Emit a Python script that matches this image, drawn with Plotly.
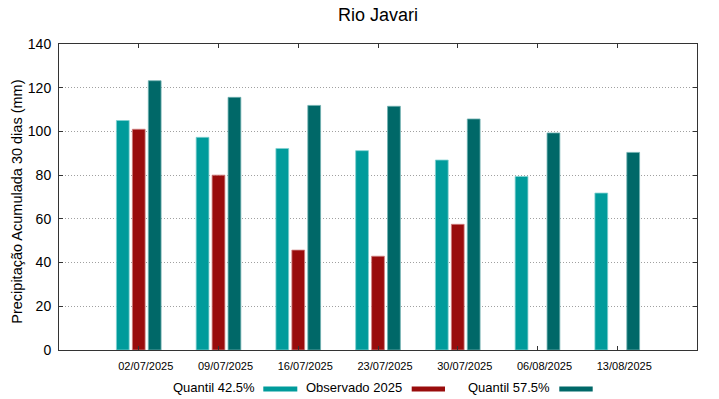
import plotly.graph_objects as go

dates = ["02/07/2025", "09/07/2025", "16/07/2025", "23/07/2025", "30/07/2025", "06/08/2025", "13/08/2025"]
q425 = [105, 97.3, 92.2, 91.2, 86.9, 79.4, 71.8]
obs2025 = [101, 80, 45.7, 42.9, 57.5, None, None]
q575 = [123.2, 115.6, 111.9, 111.5, 105.7, 99.3, 90.4]
series_names = ["Quantil 42.5%", "Observado 2025", "Quantil 57.5%"]
yticks = [0, 20, 40, 60, 80, 100, 120, 140]

colors = ["#009b9b", "#990c0c", "#006868"]
edge = ["#7fd0d0", "#d08080", "#6fb0b0"]
offsets = [-0.28, -0.08, 0.12]
bw = 0.16

x = list(range(len(dates)))
fig = go.Figure()
for vals, name, c, e, off in zip([q425, obs2025, q575], series_names, colors, edge, offsets):
    fig.add_trace(go.Bar(x=x, y=vals, name=name, width=bw, offset=off,
                         marker=dict(color=c, line=dict(color=e, width=0.8)),
                         showlegend=False))

W, H = 719, 399
L, R, T, B = 59, 697, 44, 350
pw, ph = R - L, B - T

def px(xp):
    return (xp - L) / pw

def py(yp):
    return (B - yp) / ph

font = "Liberation Sans, Arial, sans-serif"

fig.update_layout(
    width=W, height=H,
    margin=dict(l=L, r=W - R, t=T, b=H - B, pad=0),
    paper_bgcolor="white", plot_bgcolor="white",
    barmode="overlay",
    font=dict(family=font, color="#000000"),
    title=dict(text="Rio Javari", x=(L + R) / 2 / W, xanchor="center", y=1 - 15 / H, yanchor="middle",
               font=dict(size=18, family=font, color="#000000")),
    xaxis=dict(range=[-1, 7], tickmode="array", tickvals=x, ticktext=dates,
               ticks="inside", ticklen=4, tickcolor="#333333", showgrid=False,
               showline=True, linecolor="#333333", linewidth=1, mirror="ticks",
               tickfont=dict(size=11, family=font), ticklabelshift=7, ticklabelstandoff=6,
               zeroline=False),
    yaxis=dict(range=[0, 140], tickmode="array", tickvals=yticks,
               ticks="inside", ticklen=4, tickcolor="#333333",
               showgrid=True, gridcolor="#a0a0a0", griddash="1px,2px", gridwidth=1,
               showline=True, linecolor="#333333", linewidth=1, mirror="ticks",
               tickfont=dict(size=14, family=font), ticklabelstandoff=4, zeroline=False),
)

ann = [dict(text="Precipitação Acumulada 30 dias (mm)", x=px(17), y=py(201.7), xref="paper", yref="paper",
            textangle=-90, showarrow=False, xanchor="center", yanchor="middle",
            font=dict(size=14.5, family=font, color="#000000"))]
leg_text_right = [256.7, 404, 552.3]
leg_sw = [(263.3, 297.3), (411.7, 445), (559.3, 592.7)]
shapes = []
for name, tr, (s0, s1), c in zip(series_names, leg_text_right, leg_sw, colors):
    ann.append(dict(text=name, x=px(tr), y=py(387.7), xref="paper", yref="paper", showarrow=False,
                    xanchor="right", yanchor="middle", font=dict(size=13, family=font, color="#000000")))
    shapes.append(dict(type="rect", xref="paper", yref="paper", x0=px(s0), x1=px(s1),
                       y0=py(386.5), y1=py(391.5), fillcolor=c, line=dict(width=0)))
fig.update_layout(annotations=ann, shapes=shapes)

fig.write_html("out.html", config={"displayModeBar": False},
               post_script="document.body.style.margin='0';document.body.style.overflow='hidden';")
